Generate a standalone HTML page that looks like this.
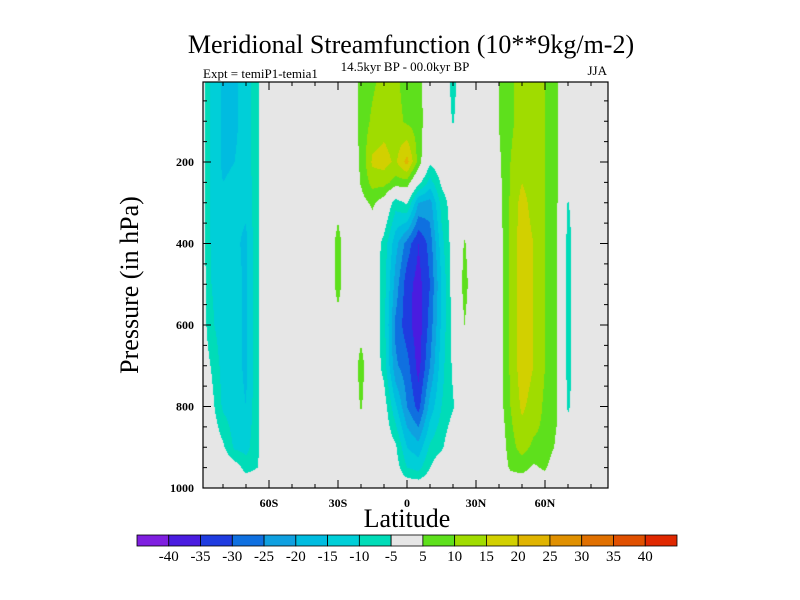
<!DOCTYPE html>
<html><head><meta charset="utf-8"><style>
body{margin:0;background:#fff;width:800px;height:600px;overflow:hidden;position:relative;font-family:"Liberation Serif",serif}
#cv{position:absolute;left:203px;top:82px}
svg{position:absolute;left:0;top:0}
</style></head><body>
<canvas id="cv" width="405" height="406"></canvas>
<svg id="sv" width="800" height="600">
<text x="411" y="53" font-size="26" text-anchor="middle" font-family="Liberation Serif,serif">Meridional Streamfunction (10**9kg/m-2)</text>
<text x="405" y="71" font-size="13" text-anchor="middle" font-family="Liberation Serif,serif">14.5kyr BP - 00.0kyr BP</text>
<text x="203" y="78" font-size="13" font-family="Liberation Serif,serif">Expt = temiP1-temia1</text>
<text x="607" y="75" font-size="13" text-anchor="end" font-family="Liberation Serif,serif">JJA</text>
<text transform="translate(138,285) rotate(-90)" font-size="26" text-anchor="middle" font-family="Liberation Serif,serif">Pressure (in hPa)</text>
<text x="407" y="527" font-size="26" text-anchor="middle" font-family="Liberation Serif,serif">Latitude</text>
<g id="axes"></g>
<g id="cbar"></g>
</svg>
<script>
const lats=[-90,-85,-80,-75,-70,-65,-60,-55,-50,-45,-40,-35,-30,-25,-20,-15,-10,-5,0,5,10,15,20,25,30,35,40,45,50,55,60,65,70,75,80,85,90];
const pressures=[0,100,200,250,300,400,500,600,700,800,900,950,1000];
const row0=[0,-11,-16,-16,-13,-6,0, 0,0,0,0,0,0,0, 7,9,12,11,8,7, 0,0,-7,0,0,0, 5.2,9,12,11,10,6, 0,0,0,0,0];
const row100=[0,-11,-16,-16,-13,-6,0, 0,0,0,0,0,0,0, 7,11,13,12,9,8, 0,0,-5.5,0,0,0, 5.2,9,12,11,10,6, 0,0,0,0,0];
const row200=[0,-11,-16,-15,-13,-6,0, 0,0,0,0,0,0,0, 6,16,17,14,22,8, -4,-1,0,0,0,0, 4,10,14,12,10,6, 0,0,0,0,0];
const row250=[0,-11,-15,-14,-14,-6,0, 0,0,0,0,0,0,0, 5.5,12,12,8,8,-3, -12,-4,0,0,0,0, 3.5,10,15,12,10,6, 0,0,0,0,0];
const row300=[0,-11,-14,-14,-14,-6,0, 0,0,0,0,0,3,0, 3,6,2,-8,-4,-20, -22,-8,-2,0,0,0, 3,11,17,13,10,6, -5.5,0,0,0,0];
const row400=[0,-11,-14,-14,-16,-6,0, 0,0,0,0,0,7,0, 0,0,-7,-18,-27,-35, -28,-12,-2,5.5,0,0, 2,11,18,15,10,6, -7,0,0,0,0];
const row500=[0,-10,-13,-13,-16,-6,0, 0,0,0,0,0,7,0, 0,0,-8,-22,-33,-37, -30,-15,-2,7,0,0, 2,11,18,15,10,6, -7,0,0,0,0];
const row600=[0,-9,-13,-13,-16,-6,0, 0,0,0,0,0,3,0, 3,0,-8,-26,-33,-38, -28,-14,-3,5,0,0, 2,11,18,15,10,6, -7,0,0,0,0];
const row700=[0,-5.5,-12,-13,-16,-6,0, 0,0,0,0,0,0,0, 7,0,-7,-24,-28,-37, -25,-12,-4,0,0,0, 2,11,18,15,10,6, -7,0,0,0,0];
const row800=[0,-3,-11,-13,-15,-6,0, 0,0,0,0,0,0,0, 5.5,0,-2,-14,-25,-32, -18,-10,-5.5,0,0,0, 2,10,16,13,9,6, -6,0,0,0,0];
const row900=[0,0,-4,-11,-12,-6,0, 0,0,0,0,0,0,0, 0,0,0,-4,-15,-18, -9,-6,0,0,0,0, 0,8,12,9,9,4, 0,0,0,0,0];
const row950=[0,0,0,-2,-7,-5,0, 0,0,0,0,0,0,0, 0,0,0,-2,-10,-12, -5,0,0,0,0,0, 0,6,7,4,6,0, 0,0,0,0,0];
const row1000=[0,0,0,0,0,0,0, 0,0,0,0,0,0,0, 0,0,0,0,0,0, 0,0,0,0,0,0, 0,0,0,0,0,0, 0,0,0,0,0];
const field=[row0,row100,row200,row250,row300,row400,row500,row600,row700,row800,row900,row950,row1000];
const levels=[-40,-35,-30,-25,-20,-15,-10,-5,5,10,15,20,25,30,35,40];
const colors=["#7f1fe0","#4a1ce0","#1f3ce0","#0f70e0","#0fa0e0","#00bce0","#00cfd8","#00dcb8","#e6e6e6","#5ee01c","#a0dc00","#d2d000","#e0b400","#e09000","#e07000","#e05000","#e02800"];
const cbarLabels=["-40","-35","-30","-25","-20","-15","-10","-5","5","10","15","20","25","30","35","40"];
const yTicks=[200,400,600,800,1000];
const xTicks=[-60,-30,0,30,60];
const xTickLabels=["60S","30S","0","30N","60N"];

const X0=203,Y0=82,W=405,H=406;
function xOf(lat){return 407+lat*2.3;}
function yOf(p){return 80.5+p*0.4075;}
function latOf(x){return (x-407)/2.3;}
function pOf(y){return (y-80.5)/0.4075;}
function hex(c){return [parseInt(c.substr(1,2),16),parseInt(c.substr(3,2),16),parseInt(c.substr(5,2),16)];}
const rgb=colors.map(hex);
function sample(lat,p){
  let i=Math.max(0,Math.min(lats.length-2,Math.floor((lat-lats[0])/5)));
  let tx=(lat-lats[i])/(lats[i+1]-lats[i]);tx=Math.max(0,Math.min(1,tx));
  let j=0;while(j<pressures.length-2&&p>pressures[j+1])j++;
  let ty=(p-pressures[j])/(pressures[j+1]-pressures[j]);ty=Math.max(0,Math.min(1,ty));
  const a=field[j][i],b=field[j][i+1],c=field[j+1][i],d=field[j+1][i+1];
  return (a*(1-tx)+b*tx)*(1-ty)+(c*(1-tx)+d*tx)*ty;
}
function binOf(v){if(v>-5&&v<5)return 8;let k=0;while(k<levels.length&&v>=levels[k])k++;return k;}
const cv=document.getElementById('cv'),ctx=cv.getContext('2d');
const img=ctx.createImageData(W,H);
for(let y=0;y<H;y++){const p=pOf(Y0+y+0.5);
  for(let x=0;x<W;x++){const v=sample(latOf(X0+x+0.5),p);
    const c=rgb[binOf(v)],o=(y*W+x)*4;img.data[o]=c[0];img.data[o+1]=c[1];img.data[o+2]=c[2];img.data[o+3]=255;}}
ctx.putImageData(img,0,0);

const NS="http://www.w3.org/2000/svg";
function el(t,a,parent){const e=document.createElementNS(NS,t);for(const k in a)e.setAttribute(k,a[k]);parent.appendChild(e);return e;}
const ax=document.getElementById('axes');
const frame=el('rect',{x:X0,y:Y0,width:W,height:H,fill:'none',stroke:'#000','stroke-width':1.2},ax);


for(let p=50;p<=1000;p+=50){const y=yOf(p);if(y<Y0+1)continue;const L=(p%200===0)?8:4;
  el('line',{x1:X0,x2:X0+L,y1:y,y2:y,stroke:'#000'},ax);el('line',{x1:X0+W-L,x2:X0+W,y1:y,y2:y,stroke:'#000'},ax);}
for(let lat=-80;lat<=80;lat+=10){const x=xOf(lat);const L=(lat%30===0)?8:4;
  el('line',{x1:x,x2:x,y1:Y0+H,y2:Y0+H-L,stroke:'#000'},ax);el('line',{x1:x,x2:x,y1:Y0,y2:Y0+L,stroke:'#000'},ax);}
yTicks.forEach(p=>{const t=el('text',{x:194,y:yOf(p)+4,'font-size':12,'text-anchor':'end','font-weight':'bold','font-family':'Liberation Serif,serif'},ax);t.textContent=p;
  
  });
xTicks.forEach((l,i)=>{const t=el('text',{x:xOf(l),y:507,'font-size':12,'text-anchor':'middle','font-weight':'bold','font-family':'Liberation Serif,serif'},ax);t.textContent=xTickLabels[i];
  
  });
const cb=document.getElementById('cbar');
const BW=540/colors.length;
colors.forEach((c,i)=>{const r=el('rect',{x:137+i*BW,y:535,width:BW,height:11,fill:c,stroke:'#000','stroke-width':0.8},cb);
  
  });
cbarLabels.forEach((s,i)=>{const t=el('text',{x:137+(i+1)*BW,y:561,'font-size':15,'text-anchor':'middle','font-family':'Liberation Serif,serif'},cb);t.textContent=s;
  
  });
</script>
</body></html>
